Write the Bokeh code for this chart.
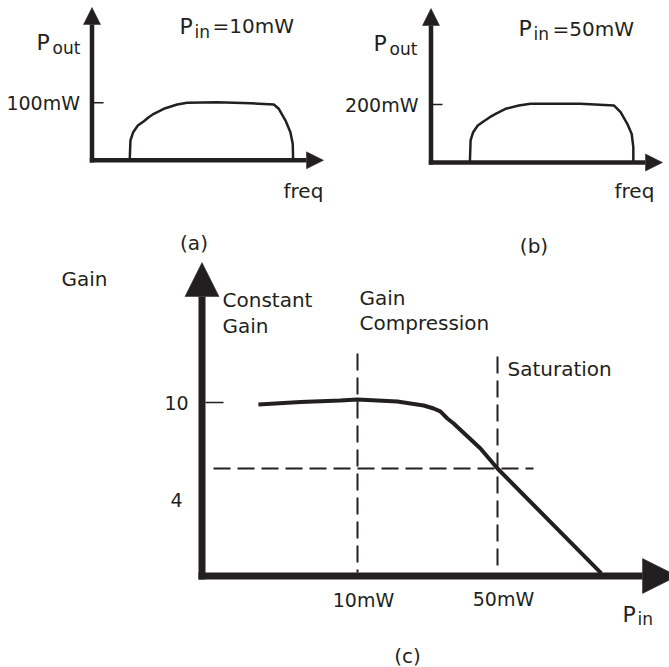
import math
from bokeh.plotting import figure
from bokeh.models import Range1d, LogScale, Arrow, NormalHead
from bokeh.core.properties import value
from bokeh.embed import file_html
from bokeh.resources import INLINE

# ---------------- data ----------------
# (a) output spectrum for Pin = 10 mW  (freq in arbitrary units, Pout in mW)
freq_a = [1.63, 1.66, 1.78, 1.98, 2.24, 2.45, 2.67, 3.10, 3.68, 4.11, 5.41, 6.85, 7.85, 8.07, 8.36, 8.57, 8.67, 8.69]
pout_a = [0, 34.4, 48.9, 60.5, 68.0, 75.0, 80.9, 89.6, 97.0, 100, 101.0, 99.3, 97.0, 89.6, 69.2, 48.9, 28.7, 0]
# (b) output spectrum for Pin = 50 mW
freq_b = [1.68, 1.71, 1.82, 2.02, 2.28, 2.54, 2.79, 3.22, 3.79, 4.30, 6.46, 7.90, 8.19, 8.48, 8.67, 8.74, 8.74]
pout_b = [0, 75.9, 104.5, 127.6, 142.4, 156.2, 167.9, 185.2, 196.6, 202.4, 202.4, 196.6, 173.4, 133.4, 98.3, 52.8, 0]
pout_tick_a = [100]
pout_tick_a_label = ["100mW"]
pout_tick_b = [200]
pout_tick_b_label = ["200mW"]
# (c) gain versus input power (Pin in mW, gain linear)
pin_c = [3.2, 5.2, 8.2, 10, 15.8, 21.4, 24.0, 25.9, 28.1, 30.2, 41.1, 50, 165]
gain_c = [9.81, 10.05, 10.19, 10.29, 10.10, 9.72, 9.45, 9.19, 8.60, 8.20, 6.48, 5.36, 1.99]
gain_ticks = [10, 4]
gain_tick_labels = ["10", "4"]
pin_ticks = [10, 50]
pin_tick_labels = ["10mW", "50mW"]
gain_at_50mw = [5.36]

INK = "#231f20"
FONT = value("DejaVu Sans")

# ---------------- canvas ----------------
W, H = 669, 667
OX, OY = 0, 0
p = figure(width=W, height=H, output_backend="svg", toolbar_location=None,
           x_range=Range1d(OX, OX + W), y_range=Range1d(OY + H, OY),
           x_axis_location=None, y_axis_location=None, min_border=0,
           outline_line_color=None, title=None)
p.grid.visible = False
p.background_fill_color = "white"
p.border_fill_color = "white"


def lin_range(d0, p0, d1, p1, lo, hi):
    s = (d1 - d0) / (p1 - p0)
    return Range1d(start=d0 + (lo - p0) * s, end=d0 + (hi - p0) * s)


def log_range(d0, p0, d1, p1, lo, hi):
    l0, l1 = math.log10(d0), math.log10(d1)
    s = (l1 - l0) / (p1 - p0)
    return Range1d(start=10 ** (l0 + (lo - p0) * s), end=10 ** (l0 + (hi - p0) * s))


XL, XR = OX, OX + W
YB, YT = OY + H, OY
p.extra_x_ranges = {
    "a_x": lin_range(0, 91.5, 10, 323.0, XL, XR),
    "b_x": lin_range(0, 430.5, 10, 662.0, XL, XR),
    "c_x": log_range(10, 357.0, 50, 497.0, XL, XR),
}
p.extra_y_ranges = {
    "a_y": lin_range(0, 159.8, 100, 102.3, YB, YT),
    "b_y": lin_range(0, 162.0, 200, 104.0, YB, YT),
    "c_y": log_range(10, 402.0, 4, 499.0, YB, YT),
}
p.extra_x_scales = {"c_x": LogScale()}
p.extra_y_scales = {"c_y": LogScale()}


def arrow(x0, y0, x1, y1, lw, hs):
    p.add_layout(Arrow(x_start=x0, y_start=y0, x_end=x1, y_end=y1,
                       line_width=lw, line_color=INK,
                       end=NormalHead(size=hs, fill_color=INK, line_color=INK, line_width=0.5)))


# axes (layout positions)
arrow(91.5, 162, 91.5, 7, 4.5, 17)
arrow(89.3, 159.8, 323, 159.8, 4.5, 17)
arrow(430.5, 164, 430.5, 8, 4.5, 17)
arrow(428.3, 162, 662, 162, 4.5, 17)
arrow(201.5, 579, 201.5, 262, 7, 34)
arrow(198, 575.5, 677, 575.5, 7, 35)

# spectra
p.line(freq_a, pout_a, x_range_name="a_x", y_range_name="a_y", line_width=2.5, line_color=INK, line_join="round")
p.line(freq_b, pout_b, x_range_name="b_x", y_range_name="b_y", line_width=2.5, line_color=INK, line_join="round")

TXT = dict(text_font=FONT, text_color=INK, text_baseline="middle")

# ticks on Pout axes
p.segment(x0=[93.5], x1=[103], y0=pout_tick_a, y1=pout_tick_a, y_range_name="a_y", line_width=1.5, line_color=INK)
p.segment(x0=[432.5], x1=[442], y0=pout_tick_b, y1=pout_tick_b, y_range_name="b_y", line_width=1.5, line_color=INK)
p.text(x=[79.5], y=pout_tick_a, text=pout_tick_a_label, y_range_name="a_y", text_align="right",
       text_font_size="19px", **TXT)
p.text(x=[418], y=pout_tick_b, text=pout_tick_b_label, y_range_name="b_y", text_align="right",
       text_font_size="19px", **TXT)

# gain curve
p.line(pin_c, gain_c, x_range_name="c_x", y_range_name="c_y", line_width=4, line_color=INK, line_join="round")
p.segment(x0=[205], x1=[223], y0=gain_ticks[:1], y1=gain_ticks[:1], y_range_name="c_y", line_width=1.5, line_color=INK)
p.text(x=[176, 176], y=gain_ticks, text=gain_tick_labels, y_range_name="c_y", text_align="center",
       text_font_size="19px", **TXT)
p.text(x=pin_ticks, y=[599, 598], text=pin_tick_labels, x_range_name="c_x", x_offset=6, text_align="center",
       text_font_size="19px", **TXT)

# dashed guides
p.segment(x0=pin_ticks, x1=pin_ticks, y0=[353, 356], y1=[572, 572], x_range_name="c_x",
          line_width=2, line_color=INK, line_dash="17 7")
p.segment(x0=[213], x1=[533], y0=gain_at_50mw, y1=gain_at_50mw, y_range_name="c_y",
          line_width=2, line_color=INK, line_dash="17 7")

# text labels (y = visual centre)
main = [("freq", 283, 190), ("freq", 614, 190), ("Gain", 61, 278), ("Constant", 222, 299), ("Gain", 222, 325),
        ("Gain", 359, 297.5), ("Compression", 359, 322.5), ("Saturation", 507, 368),
        ("=10mW", 212, 25.5), ("=50mW", 552, 28)]
p.text(x=[m[1] for m in main], y=[m[2] for m in main], text=[m[0] for m in main], text_align="left",
       text_font_size="20px", **TXT)
caps_p = [("P", 36, 42), ("P", 373, 43), ("P", 179, 25.5), ("P", 518, 28), ("P", 622, 614)]
p.text(x=[m[1] for m in caps_p], y=[m[2] for m in caps_p], text=[m[0] for m in caps_p], text_align="left",
       text_font_size="22px", **TXT)
subs = [("out", 52, 47), ("out", 389, 48), ("in", 194, 31), ("in", 533, 33), ("in", 637, 618)]
p.text(x=[s[1] for s in subs], y=[s[2] for s in subs], text=[s[0] for s in subs], text_align="left",
       text_font_size="17px", **TXT)
caps = [("(a)", 193.5, 242.5), ("(b)", 533.5, 245), ("(c)", 407, 655)]
p.text(x=[c[1] for c in caps], y=[c[2] for c in caps], text=[c[0] for c in caps], text_align="center",
       text_font_size="20px", **TXT)

open("out.html", "w").write(file_html(p, INLINE))
